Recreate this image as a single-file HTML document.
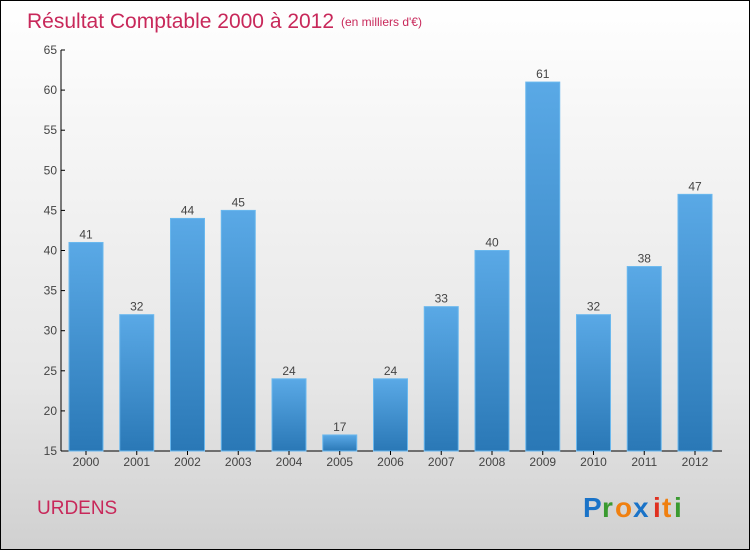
<!DOCTYPE html>
<html><head><meta charset="utf-8"><style>
body{margin:0;}
#c{width:748px;height:548px;border:1px solid #000;background:linear-gradient(#fff,#f7f7f7 20%,#e6e6e6 70%,#d0d0d0);position:relative;font-family:"Liberation Sans",sans-serif;overflow:hidden}
</style></head><body>
<div id="c">
<svg width="748" height="548" id="svg">
<defs><linearGradient id="bg" x1="0" y1="0" x2="0" y2="1"><stop offset="0" stop-color="#5aa9e6"/><stop offset="1" stop-color="#2a78b6"/></linearGradient></defs>
<text x="26" y="27" font-size="21" fill="#c8285a">Résultat Comptable 2000 à 2012</text>
<text x="340" y="25" font-size="12" fill="#c8285a">(en milliers d'€)</text>
<text x="36" y="513" font-size="19" fill="#c8285a">URDENS</text>
<g font-size="28" font-weight="bold" font-family="Liberation Sans,sans-serif">
<text x="582" y="516" fill="#1a73c8">P</text><text x="601" y="516" fill="#3a9a30">r</text><text x="614" y="516" fill="#f08010">o</text><text x="632" y="516" fill="#1a73c8">x</text><text x="652" y="516" fill="#e03020">i</text><text x="661" y="516" fill="#f08010">t</text><text x="673" y="516" fill="#3a9a30">i</text></g>
<g id="plot"></g>
</svg></div>
<script>
const years=["2000","2001","2002","2003","2004","2005","2006","2007","2008","2009","2010","2011","2012"];
const values=[41,32,44,45,24,17,24,33,40,61,32,38,47];
const yTicks=[15,20,25,30,35,40,45,50,55,60,65];
const NS="http://www.w3.org/2000/svg";
const g=document.getElementById('plot');
const y=v=>450-(v-15)*8.02;
const x=i=>85+i*50.75;
function mk(t,a){const e=document.createElementNS(NS,t);for(const k in a)e.setAttribute(k,a[k]);g.appendChild(e);return e;}
let ax=mk('line',{x1:60,y1:y(65),x2:60,y2:450,stroke:'#000'});


let bx=mk('line',{x1:60,y1:450,x2:721,y2:450,stroke:'#000'});


yTicks.forEach(v=>{
 const t=mk('line',{x1:60,x2:64,y1:y(v),y2:y(v),stroke:'#000'});
 
 
 const l=mk('text',{x:56,y:y(v)+4,'font-size':12,fill:'#444','text-anchor':'end'});
 l.textContent=v;
 
 
});
values.forEach((v,i)=>{
 const b=mk('rect',{x:x(i)-17,y:y(v),width:34,height:450-y(v),fill:'url(#bg)',stroke:'#6ab8ee','stroke-width':1});
 
 
 const l=mk('text',{x:x(i),y:y(v)-4,'font-size':12,fill:'#444','text-anchor':'middle'});
 l.textContent=v;
 
 
 const t=mk('line',{x1:x(i),x2:x(i),y1:450,y2:454,stroke:'#000'});
 
 
 const xl=mk('text',{x:x(i),y:465,'font-size':12,fill:'#444','text-anchor':'middle'});
 xl.textContent=years[i];
 
 
});
</script>
</body></html>
